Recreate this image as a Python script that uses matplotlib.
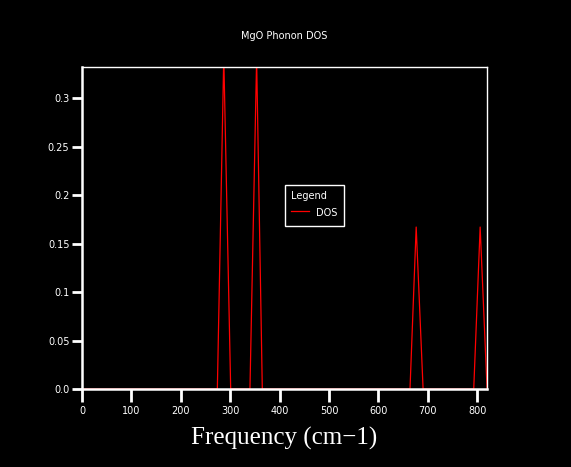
import matplotlib
matplotlib.use('Agg')
import matplotlib.pyplot as plt

# triangle-shaped peaks of the phonon DOS (frequency in cm-1)
freq = [0, 274, 287, 301, 340, 353.5, 365, 664, 676.5, 690.5, 793, 806, 820]
dos = [0, 0, 0.343, 0, 0, 0.34, 0, 0, 0.167, 0, 0, 0.167, 0]

x_ticks = [0, 100, 200, 300, 400, 500, 600, 700, 800]
y_ticks = [0.0, 0.05, 0.1, 0.15, 0.2, 0.25, 0.3]
y_tick_labels = ['0.0', '0.05', '0.1', '0.15', '0.2', '0.25', '0.3']

fig = plt.figure(figsize=(5.71, 4.67), dpi=100, facecolor='black')
ax = fig.add_axes([0.1436, 0.167, 0.7094, 0.6895], facecolor='black')

ax.plot(freq, dos, color='red', lw=0.9, label='DOS')

ax.set_xlim(0, 820)
ax.set_ylim(0, 0.332)
ax.set_xticks(x_ticks)
ax.set_yticks(y_ticks)
ax.set_yticklabels(y_tick_labels)

for side in ['top', 'right']:
    ax.spines[side].set_color('white')
    ax.spines[side].set_linewidth(1.0)
for side in ['left', 'bottom']:
    ax.spines[side].set_color('white')
    ax.spines[side].set_linewidth(1.8)

ax.tick_params(axis='x', colors='white', direction='out', length=9, width=2, labelsize=7, pad=3)
ax.tick_params(axis='y', colors='white', direction='out', length=7, width=2, labelsize=7, pad=2)

ax.set_title('MgO Phonon DOS', color='white', fontsize=7, pad=20)
ax.set_xlabel('Frequency (cm\u22121)', color='white', fontsize=18,
              family='Liberation Serif', labelpad=8)

leg = ax.legend(loc='lower left', bbox_to_anchor=(0.49, 0.49), title='Legend',
                fontsize=7, title_fontsize=7, facecolor='black', edgecolor='white',
                labelcolor='white', fancybox=False, framealpha=1,
                handlelength=1.8, handleheight=2.0, borderpad=0.6, alignment='left')
leg.get_title().set_color('white')
leg.get_frame().set_linewidth(1.0)

fig.savefig('out.png', dpi=100, facecolor='black')
